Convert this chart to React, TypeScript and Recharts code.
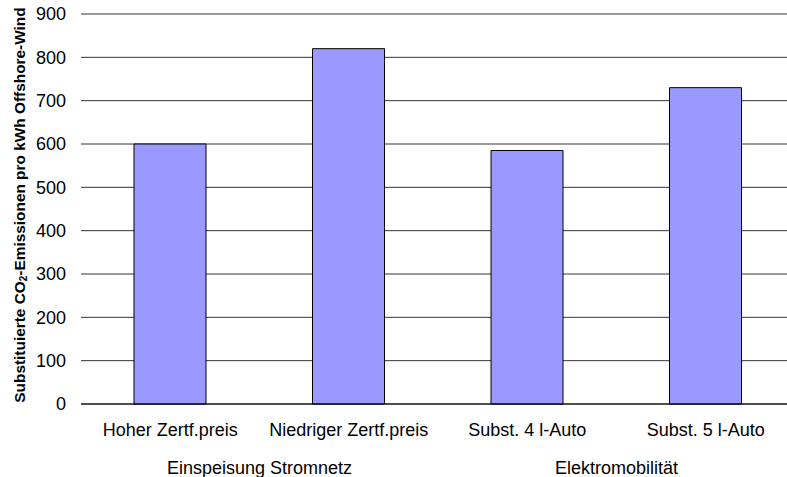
import { BarChart, Bar, XAxis, YAxis, CartesianGrid } from "recharts";

const CATEGORIES = [
  "Hoher Zertf.preis",
  "Niedriger Zertf.preis",
  "Subst. 4 l-Auto",
  "Subst. 5 l-Auto",
];
const GROUPS = [
  "Einspeisung Stromnetz",
  "Einspeisung Stromnetz",
  "Elektromobilität",
  "Elektromobilität",
];
const EMISSIONS = [600, 820, 585, 730];
const Y_TICKS = [0, 100, 200, 300, 400, 500, 600, 700, 800, 900];

const FONT = "'Liberation Sans', Arial, sans-serif";

const data = CATEGORIES.map((name, i) => ({
  name,
  group: GROUPS[i],
  value: EMISSIONS[i],
}));

function YLabel(props: any) {
  const vb = props.viewBox || {};
  const x = vb.x + 19;
  const y = vb.y + vb.height / 2 - 4;
  return (
    <text
      x={x}
      y={y}
      transform={`rotate(-90, ${x}, ${y})`}
      textAnchor="middle"
      dominantBaseline="central"
      fontFamily={FONT}
      fontSize={15.4}
      fontWeight="bold"
      fill="#000"
    >
      <tspan>Substituierte CO</tspan>
      <tspan dy={4} fontSize={10}>2</tspan>
      <tspan dy={-4}>-Emissionen pro kWh Offshore-Wind</tspan>
    </text>
  );
}

export default function App() {
  const tickStyle = { fontSize: 18, fill: "#000", fontFamily: FONT };
  return (
    <div
      style={{
        position: "absolute",
        left: 0,
        top: 0,
        width: 787,
        height: 477,
        overflow: "hidden",
        background: "#fff",
      }}
    >
      <BarChart
        width={800}
        height={477}
        data={data}
        margin={{ top: 14, right: 5, left: 0, bottom: 0 }}
      >
        <CartesianGrid vertical={false} stroke="#000" strokeOpacity={0.8} />
        <XAxis
          dataKey="name"
          height={40}
          tickLine={false}
          tickMargin={13}
          axisLine={{ stroke: "#000" }}
          tick={tickStyle}
        />
        <XAxis
          xAxisId="group"
          dataKey="group"
          allowDuplicatedCategory={false}
          height={33}
          tickLine={false}
          axisLine={false}
          tickMargin={11}
          tick={tickStyle}
        />
        <YAxis
          width={81}
          domain={[0, 900]}
          ticks={Y_TICKS}
          tickLine={false}
          axisLine={false}
          tickMargin={9}
          tick={tickStyle}
          label={{ content: YLabel }}
        />
        <Bar
          dataKey="value"
          fill="#9999FF"
          stroke="#000"
          strokeWidth={1}
          barSize={72}
          isAnimationActive={false}
        />
      </BarChart>
    </div>
  );
}
